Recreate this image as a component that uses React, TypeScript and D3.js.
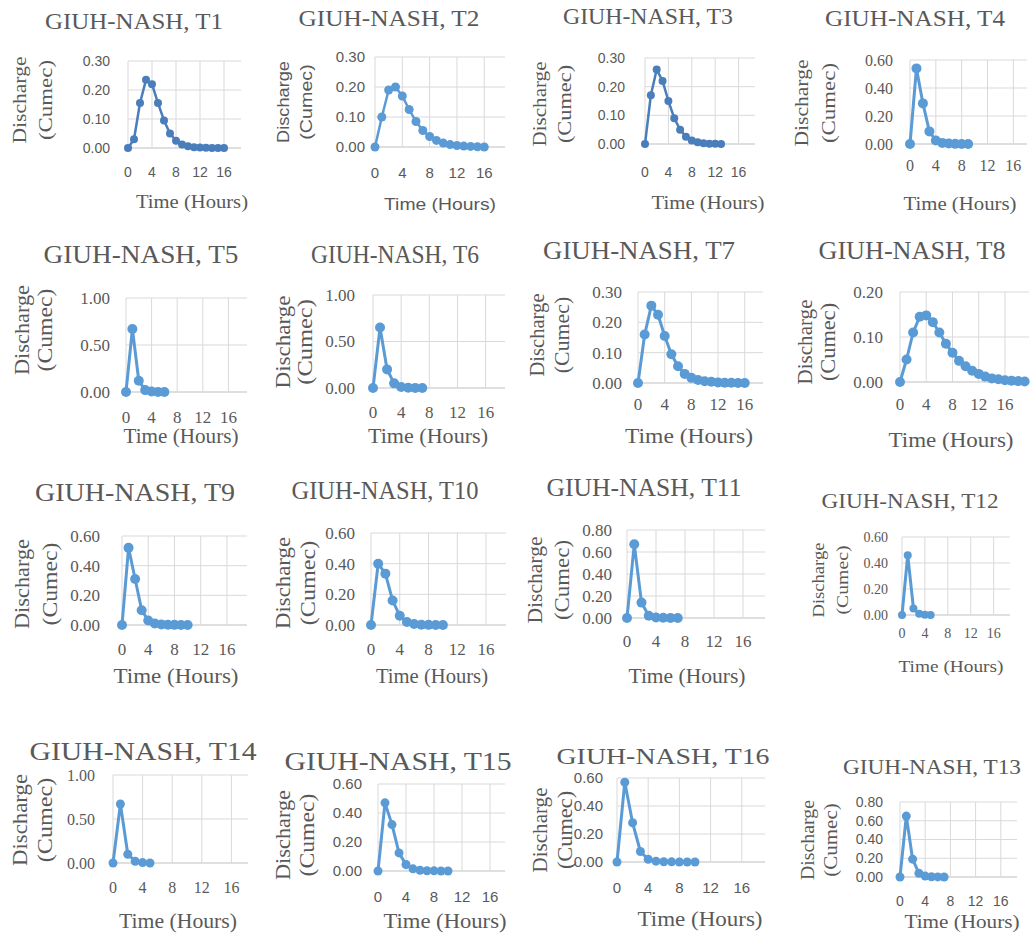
import React from "react";
import * as d3 from "d3";

const W = 1031;
const H = 938;

// hourly discharge ordinates (cumec), first value at t = 0
const t1 = [0, 0.03, 0.155, 0.235, 0.22, 0.155, 0.095, 0.05, 0.025, 0.012, 0.006, 0.003, 0.002, 0.001, 0, 0, 0];
const t2 = [0, 0.1, 0.19, 0.2, 0.17, 0.125, 0.085, 0.055, 0.035, 0.022, 0.013, 0.008, 0.005, 0.003, 0.002, 0.001, 0];
const t3 = [0, 0.17, 0.26, 0.22, 0.15, 0.09, 0.05, 0.025, 0.012, 0.006, 0.003, 0.001, 0.0005, 0];
const t4 = [0, 0.54, 0.29, 0.09, 0.025, 0.008, 0.003, 0.001, 0, 0];
const t5 = [0, 0.67, 0.12, 0.02, 0.005, 0.001, 0];
const t6 = [0, 0.65, 0.2, 0.05, 0.01, 0.003, 0.001, 0];
const t7 = [0, 0.16, 0.255, 0.225, 0.155, 0.095, 0.055, 0.03, 0.017, 0.01, 0.006, 0.004, 0.002, 0.001, 0.001, 0, 0];
const t8 = [0, 0.05, 0.11, 0.145, 0.148, 0.133, 0.11, 0.085, 0.065, 0.047, 0.035, 0.025, 0.018, 0.012, 0.008, 0.006, 0.004, 0.003, 0.002, 0.001];
const t9 = [0, 0.52, 0.31, 0.1, 0.03, 0.01, 0.004, 0.002, 0.001, 0, 0];
const t10 = [0, 0.4, 0.335, 0.16, 0.06, 0.02, 0.006, 0.002, 0.001, 0, 0];
const t11 = [0, 0.67, 0.14, 0.02, 0.005, 0.002, 0.001, 0];
const t12 = [0, 0.46, 0.05, 0.01, 0.002, 0];
const t13 = [0, 0.65, 0.19, 0.04, 0.01, 0.003, 0.001, 0];
const t14 = [0, 0.67, 0.1, 0.02, 0.005, 0];
const t15 = [0, 0.47, 0.32, 0.125, 0.045, 0.015, 0.005, 0.002, 0.001, 0, 0];
const t16 = [0, 0.57, 0.28, 0.075, 0.02, 0.006, 0.002, 0.001, 0, 0, 0];

const xTicks = [0, 4, 8, 12, 16];
const xLabel = "Time (Hours)";
const yLabel = ["Discharge", "(Cumec)"];

const SERIF = "'Liberation Serif', 'Times New Roman', serif";
const SANS = "'Liberation Sans', Arial, sans-serif";
const GREY = "#595959";
const DARK = "#4a7ebb";
const LIGHT = "#5b9bd5";

// panel layout (pixels), in reading order of the figure
const panels = [
  { name: "GIUH-NASH, T1", data: t1, yMax: 0.3, yStep: 0.1, x0: 128, pph: 6.0, right: 241, top: 61, bottom: 148, tickRight: 110, tickFont: SANS, tickSize: 14, xTickY: 177, title: [134, 29, 23, 178], xl: [192, 208, 18, 112, SERIF], yl: [20, 46, 100, 18, 87, SERIF], r: 4, sw: 2.5, color: DARK },
  { name: "GIUH-NASH, T2", data: t2, yMax: 0.3, yStep: 0.1, x0: 375, pph: 6.83, right: 505, top: 57, bottom: 147, tickRight: 365, tickFont: SANS, tickSize: 15, xTickY: 178, title: [389, 26, 23, 181], xl: [440, 210, 17, 112, SANS], yl: [283, 306, 102, 17, 82, SANS], r: 4.5, sw: 2.5, color: LIGHT },
  { name: "GIUH-NASH, T3", data: t3, yMax: 0.3, yStep: 0.1, x0: 645, pph: 5.85, right: 755, top: 58, bottom: 144, tickRight: 625, tickFont: SANS, tickSize: 14, xTickY: 177, title: [648, 24, 23, 170], xl: [708, 209, 18, 113, SERIF], yl: [540, 565, 104, 18, 85, SERIF], r: 4, sw: 2.5, color: DARK },
  { name: "GIUH-NASH, T4", data: t4, yMax: 0.6, yStep: 0.2, x0: 910, pph: 6.46, right: 1027, top: 60, bottom: 144, tickRight: 893, tickFont: SERIF, tickSize: 16, xTickY: 171, title: [915, 26, 23, 180], xl: [960, 210, 18, 113, SERIF], yl: [801, 828, 103, 19, 87, SERIF], r: 5, sw: 3, color: LIGHT },

  { name: "GIUH-NASH, T5", data: t5, yMax: 1, yStep: 0.5, x0: 126, pph: 6.4, right: 247, top: 298, bottom: 392, tickRight: 110, tickFont: SERIF, tickSize: 17, xTickY: 423, title: [141, 263, 26, 195], xl: [181, 443, 20, 115, SERIF], yl: [22, 45, 330, 20, 90, SERIF], r: 5, sw: 3, color: LIGHT },
  { name: "GIUH-NASH, T6", data: t6, yMax: 1, yStep: 0.5, x0: 373, pph: 7.04, right: 505, top: 295, bottom: 388, tickRight: 355, tickFont: SERIF, tickSize: 17, xTickY: 418, title: [395, 263, 25, 168], xl: [428, 443, 20, 120, SERIF], yl: [283, 305, 342, 20, 93, SERIF], r: 5, sw: 3, color: LIGHT },
  { name: "GIUH-NASH, T7", data: t7, yMax: 0.3, yStep: 0.1, x0: 638, pph: 6.67, right: 763, top: 292, bottom: 383, tickRight: 622, tickFont: SERIF, tickSize: 17, xTickY: 410, title: [639, 259, 26, 192], xl: [689, 443, 20, 128, SERIF], yl: [537, 562, 335, 20, 83, SERIF], r: 5, sw: 3, color: LIGHT },
  { name: "GIUH-NASH, T8", data: t8, yMax: 0.2, yStep: 0.1, x0: 900, pph: 6.56, right: 1029, top: 292, bottom: 382, tickRight: 883, tickFont: SERIF, tickSize: 17, xTickY: 410, title: [912, 259, 26, 187], xl: [951, 447, 20, 125, SERIF], yl: [805, 828, 342, 20, 85, SERIF], r: 5, sw: 3, color: LIGHT },

  { name: "GIUH-NASH, T9", data: t9, yMax: 0.6, yStep: 0.2, x0: 122, pph: 6.56, right: 247, top: 536, bottom: 625, tickRight: 100, tickFont: SERIF, tickSize: 17, xTickY: 655, title: [135, 501, 26, 200], xl: [176, 683, 20, 125, SERIF], yl: [22, 50, 584, 20, 90, SERIF], r: 5, sw: 3, color: LIGHT },
  { name: "GIUH-NASH, T10", data: t10, yMax: 0.6, yStep: 0.2, x0: 371, pph: 7.19, right: 506, top: 533, bottom: 625, tickRight: 355, tickFont: SERIF, tickSize: 17, xTickY: 655, title: [385, 499, 26, 187], xl: [432, 683, 20, 112, SERIF], yl: [283, 308, 583, 20, 92, SERIF], r: 5, sw: 3, color: LIGHT },
  { name: "GIUH-NASH, T11", data: t11, yMax: 0.8, yStep: 0.2, x0: 627, pph: 7.25, right: 765, top: 530, bottom: 618, tickRight: 612, tickFont: SERIF, tickSize: 17, xTickY: 647, title: [644, 496, 26, 195], xl: [687, 683, 20, 117, SERIF], yl: [535, 562, 580, 20, 87, SERIF], r: 5, sw: 3, color: LIGHT },
  { name: "GIUH-NASH, T12", data: t12, yMax: 0.6, yStep: 0.2, x0: 902, pph: 5.73, right: 1010, top: 537, bottom: 615, tickRight: 888, tickFont: SERIF, tickSize: 14, xTickY: 638, title: [910, 508, 21, 177], xl: [951, 672, 17, 105, SERIF], yl: [818, 842, 580, 17, 75, SERIF], r: 4, sw: 3, color: LIGHT },

  { name: "GIUH-NASH, T14", data: t14, yMax: 1, yStep: 0.5, x0: 113, pph: 7.4, right: 248, top: 775, bottom: 863, tickRight: 95, tickFont: SERIF, tickSize: 16, xTickY: 893, title: [143, 760, 25, 227], xl: [178, 928, 20, 118, SERIF], yl: [20, 45, 820, 20, 92, SERIF], r: 4.5, sw: 3, color: LIGHT },
  { name: "GIUH-NASH, T15", data: t15, yMax: 0.6, yStep: 0.2, x0: 378, pph: 7.0, right: 505, top: 784, bottom: 871, tickRight: 362, tickFont: SANS, tickSize: 15, xTickY: 902, title: [398, 770, 25, 227], xl: [445, 928, 20, 123, SERIF], yl: [283, 307, 835, 20, 90, SERIF], r: 4.5, sw: 3, color: LIGHT },
  { name: "GIUH-NASH, T16", data: t16, yMax: 0.6, yStep: 0.2, x0: 617, pph: 7.8, right: 765, top: 778, bottom: 862, tickRight: 603, tickFont: SANS, tickSize: 15, xTickY: 893, title: [663, 764, 24, 213], xl: [700, 926, 20, 125, SERIF], yl: [540, 565, 830, 20, 85, SERIF], r: 4.5, sw: 3, color: LIGHT },
  { name: "GIUH-NASH, T13", data: t13, yMax: 0.8, yStep: 0.2, x0: 900, pph: 6.3, right: 1017, top: 802, bottom: 877, tickRight: 883, tickFont: SANS, tickSize: 14, xTickY: 906, title: [932, 774, 22, 178], xl: [962, 928, 18, 115, SERIF], yl: [808, 831, 840, 18, 80, SERIF], r: 4.5, sw: 3, color: LIGHT },
];

function Panel({ p }: { p: any }) {
  const xMax = (p.right - p.x0) / p.pph;
  const x = d3.scaleLinear().domain([0, xMax]).range([p.x0, p.right]);
  const y = d3.scaleLinear().domain([0, p.yMax]).range([p.bottom, p.top]);
  const yTicks = d3.range(0, p.yMax + 1e-9, p.yStep);
  const pts = p.data.map((v: number, i: number) => [i, v] as [number, number]);
  const line = d3.line<[number, number]>().x(d => x(d[0])).y(d => y(d[1]));
  const [tx, ty, ts, tl] = p.title;
  const [lx, ly, ls, ll, lf] = p.xl;
  const [y1, y2, cy, ys, yl, yf] = p.yl;

  return (
    <g>
      <text x={tx} y={ty} textAnchor="middle" fontFamily={SERIF} fontSize={ts} fill={GREY}
        textLength={tl} lengthAdjust="spacingAndGlyphs">{p.name}</text>

      {/* grid */}
      {yTicks.map((t: number, i: number) => (
        <line key={"h" + i} x1={p.x0} x2={p.right} y1={y(t)} y2={y(t)}
          stroke={i === 0 ? "#bfbfbf" : "#d9d9d9"} strokeWidth={1} />
      ))}
      {xTicks.filter(t => t <= xMax).map(t => (
        <line key={"v" + t} x1={x(t)} x2={x(t)} y1={p.top} y2={p.bottom}
          stroke="#d9d9d9" strokeWidth={1} />
      ))}

      {/* tick labels */}
      {yTicks.map((t: number, i: number) => (
        <text key={"yt" + i} x={p.tickRight} y={y(t) + p.tickSize * 0.35} textAnchor="end"
          fontFamily={p.tickFont} fontSize={p.tickSize} fill={GREY}>{d3.format(".2f")(t)}</text>
      ))}
      {xTicks.map(t => (
        <text key={"xt" + t} x={x(t)} y={p.xTickY} textAnchor="middle"
          fontFamily={p.tickFont} fontSize={p.tickSize} fill={GREY}>{t}</text>
      ))}

      {/* axis titles */}
      <text x={lx} y={ly} textAnchor="middle" fontFamily={lf} fontSize={ls} fill={GREY}
        textLength={ll} lengthAdjust="spacingAndGlyphs">{xLabel}</text>
      <text transform={`translate(${y1},${cy}) rotate(-90)`} textAnchor="middle" dominantBaseline="central"
        fontFamily={yf} fontSize={ys} fill={GREY} textLength={yl} lengthAdjust="spacingAndGlyphs">{yLabel[0]}</text>
      <text transform={`translate(${y2},${cy}) rotate(-90)`} textAnchor="middle" dominantBaseline="central"
        fontFamily={yf} fontSize={ys} fill={GREY} textLength={yl * 0.92} lengthAdjust="spacingAndGlyphs">{yLabel[1]}</text>

      {/* series */}
      <path d={line(pts) || ""} fill="none" stroke={p.color} strokeWidth={p.sw} strokeLinejoin="round" />
      {pts.map((d: [number, number], i: number) => (
        <circle key={"c" + i} cx={x(d[0])} cy={y(d[1])} r={p.r} fill={p.color} />
      ))}
    </g>
  );
}

export default function App() {
  return (
    <div style={{ position: "absolute", left: 0, top: 0 }}>
      <svg width={W} height={H} viewBox={`0 0 ${W} ${H}`} style={{ display: "block", background: "#fff" }}>
        <rect width={W} height={H} fill="#fff" />
        {panels.map((p, i) => <Panel key={i} p={p} />)}
      </svg>
    </div>
  );
}
